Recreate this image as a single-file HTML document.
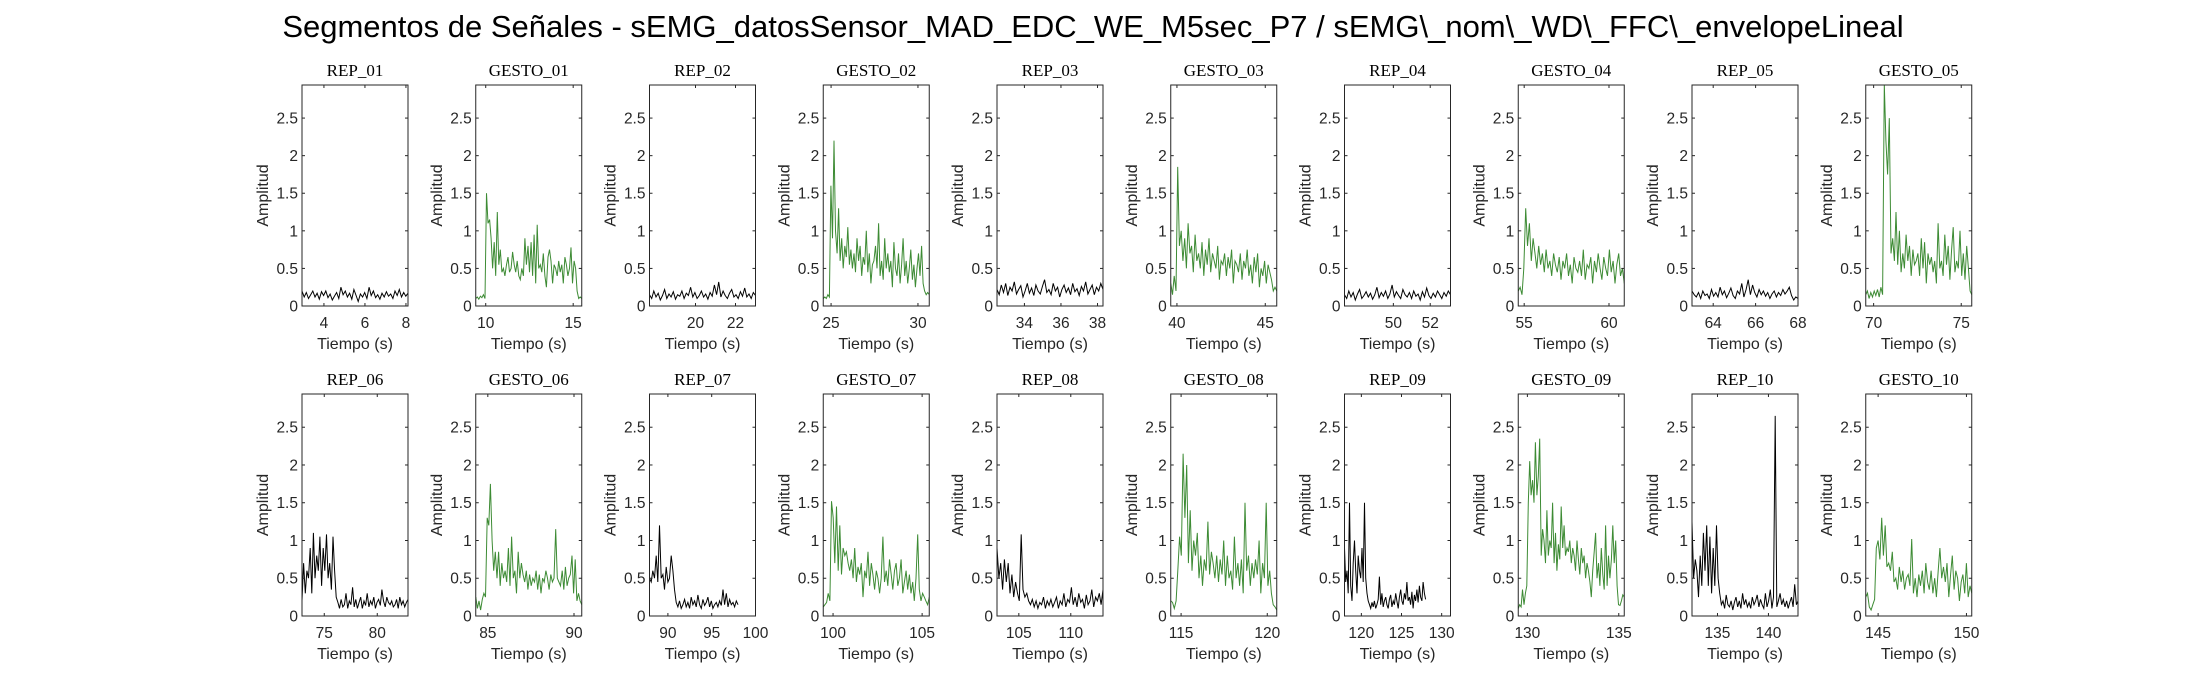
<!DOCTYPE html>
<html><head><meta charset="utf-8">
<style>
html,body{margin:0;padding:0;background:#fff;}
svg{display:block;}
text{font-family:"Liberation Sans",sans-serif;fill:#262626;}
.ttl{font-family:"Liberation Serif",serif;fill:#000;}
</style></head>
<body>
<svg id="fig" width="2187" height="688" viewBox="0 0 2187 688" xmlns="http://www.w3.org/2000/svg">
<text x="1093" y="37" font-size="31" text-anchor="middle" style="fill:#000">Segmentos de Señales - sEMG_datosSensor_MAD_EDC_WE_M5sec_P7 / sEMG\_nom\_WD\_FFC\_envelopeLineal</text>
</svg>
<script>
const titles=["REP_01","GESTO_01","REP_02","GESTO_02","REP_03","GESTO_03","REP_04","GESTO_04","REP_05","GESTO_05","REP_06","GESTO_06","REP_07","GESTO_07","REP_08","GESTO_08","REP_09","GESTO_09","REP_10","GESTO_10"];
const xlims=[[2.93,8.1],[9.43,15.49],[17.7,23.0],[24.55,30.65],[32.5,38.3],[39.65,45.65],[47.35,53.1],[54.65,60.9],[63.0,68.0],[69.55,75.6],[72.9,82.9],[84.3,90.45],[87.9,100],[99.45,105.4],[102.9,113.1],[114.4,120.55],[117.9,131.1],[129.5,135.3],[132.5,142.9],[144.3,150.3]];
const xticks=[[4,6,8],[10,15],[20,22],[25,30],[34,36,38],[40,45],[50,52],[55,60],[64,66,68],[70,75],[75,80],[85,90],[90,95,100],[100,105],[105,110],[115,120],[120,125,130],[130,135],[135,140],[145,150]];
const tspan=[[2.93,8.1],[9.43,15.49],[17.7,23.0],[24.55,30.65],[32.5,38.3],[39.65,45.65],[47.35,53.1],[54.65,60.9],[63.0,68.0],[69.55,75.6],[72.9,82.9],[84.3,90.45],[87.9,98],[99.45,105.4],[102.9,113.1],[114.4,120.55],[117.9,128],[129.5,135.3],[132.5,142.9],[144.3,150.3]];
const yticks=[0,0.5,1,1.5,2,2.5];
const ylim=[0,2.94];
const rep01=[.2,.12,.18,.1,.15,.2,.12,.17,.09,.19,.14,.2,.11,.16,.08,.13,.18,.1,.25,.15,.2,.12,.17,.09,.22,.14,.06,.16,.12,.18,.1,.25,.14,.2,.11,.15,.09,.17,.12,.19,.13,.16,.1,.2,.14,.22,.12,.18,.13,.17];
const gesto01=[.1,.12,.09,.13,.11,.15,.1,1.5,1.1,1.15,.9,.5,.85,.4,1.25,.55,.75,.45,.5,.4,.55,.65,.45,.5,.72,.55,.45,.6,.4,.35,.5,.4,.9,.55,.8,.45,.85,.4,.95,.3,1.08,.5,.55,.45,.7,.4,.25,.65,.75,.6,.3,.55,.5,.4,.6,.45,.55,.3,.65,.55,.4,.5,.78,.3,.6,.5,.2,.1,.12,.1];
const rep02=[.15,.1,.2,.12,.17,.08,.14,.22,.1,.16,.12,.19,.09,.15,.13,.2,.1,.17,.14,.25,.12,.18,.1,.14,.2,.12,.16,.09,.18,.13,.28,.15,.32,.12,.2,.14,.1,.17,.22,.12,.15,.1,.19,.13,.24,.12,.16,.1,.18,.14];
const gesto02=[.1,.12,.1,.15,.12,1.6,.9,2.2,1.0,.7,1.3,.6,.9,.5,.8,.65,1.05,.55,.75,.5,.7,.45,.9,.6,.8,.4,.65,.55,1.0,.45,.7,.3,.55,.6,.8,.5,1.1,.4,.6,.35,.9,.5,.7,.45,.6,.25,.85,.5,.4,.7,.3,.55,.9,.4,.6,.3,.5,.75,.35,.55,.25,.5,.7,.4,.8,.3,.2,.15,.18,.15];
const rep03=[.22,.15,.28,.18,.3,.14,.25,.2,.32,.16,.22,.27,.12,.2,.3,.17,.24,.14,.28,.2,.16,.26,.35,.18,.22,.15,.3,.2,.25,.12,.22,.28,.18,.24,.15,.3,.19,.23,.14,.26,.2,.32,.16,.22,.28,.15,.25,.2,.3,.22];
const gesto03=[.3,.15,.4,.2,1.85,.8,1.0,.6,.9,.5,1.1,.7,.8,.45,.95,.6,.7,.5,.85,.4,.75,.55,.9,.45,.7,.6,.5,.8,.35,.6,.55,.7,.4,.65,.5,.75,.3,.6,.55,.45,.7,.35,.6,.5,.75,.4,.55,.3,.65,.45,.7,.25,.5,.4,.6,.3,.55,.45,.35,.2,.25,.2];
const rep04=[.15,.1,.2,.12,.18,.08,.16,.22,.1,.14,.19,.12,.17,.09,.15,.25,.11,.18,.13,.2,.1,.16,.28,.12,.19,.14,.1,.22,.15,.12,.18,.1,.2,.13,.16,.08,.19,.12,.24,.14,.1,.17,.12,.2,.15,.1,.18,.13,.2,.15];
const gesto04=[.2,.25,.15,.5,1.3,.8,1.1,.6,.9,.7,.5,.8,.55,.7,.45,.75,.5,.6,.4,.7,.55,.45,.65,.35,.6,.5,.7,.4,.55,.3,.65,.5,.45,.6,.4,.75,.35,.55,.5,.65,.3,.6,.45,.7,.5,.35,.65,.5,.4,.75,.45,.6,.3,.55,.7,.4,.5,.3];
const rep05=[.2,.15,.12,.18,.1,.2,.14,.16,.1,.22,.13,.18,.12,.25,.15,.2,.11,.17,.24,.14,.1,.2,.16,.3,.12,.22,.35,.15,.28,.18,.12,.22,.15,.2,.13,.18,.1,.16,.2,.12,.18,.14,.22,.16,.2,.25,.14,.08,.12,.1];
const gesto05=[.15,.2,.1,.18,.12,.2,.14,.22,.12,.25,.15,2.95,2.2,1.75,2.5,.7,.9,.6,1.25,.55,1.0,.45,.7,.5,.95,.6,.8,.4,.75,.55,.6,.7,.4,.9,.5,.85,.3,.7,.55,.65,.45,.6,.3,1.1,.5,.6,.4,.95,.55,.8,.35,.75,1.05,.45,.6,.5,1.0,.4,.7,.35,.8,.5,.2,.15];
const rep06=[.2,.7,.3,.6,.5,.9,.3,1.1,.5,.8,.6,1.05,.4,.9,.6,1.08,.5,.7,.35,1.05,.6,.25,.18,.1,.22,.12,.15,.3,.1,.2,.15,.38,.12,.22,.1,.18,.25,.1,.2,.14,.3,.12,.2,.15,.25,.1,.18,.22,.14,.35,.2,.12,.25,.18,.15,.2,.12,.15,.22,.1,.25,.15,.2,.12,.18,.22];
const gesto06=[.25,.1,.2,.08,.22,.3,.25,1.3,1.2,1.75,1.0,.6,.85,.5,.85,.4,.7,.5,.6,.45,.9,.4,1.05,.5,.6,.3,.85,.5,.7,.55,.45,.6,.35,.55,.4,.5,.45,.6,.35,.55,.3,.5,.45,.6,.5,.35,.55,.45,.5,1.15,.5,.45,.4,.6,.35,.65,.4,.5,.55,.8,.3,.75,.2,.3,.2,.15];
const rep07=[.5,.45,.6,.5,.8,.45,1.2,.5,.55,.35,.65,.45,.5,.8,.6,.35,.18,.12,.2,.1,.15,.22,.12,.18,.1,.25,.15,.2,.12,.28,.15,.1,.22,.14,.18,.25,.12,.2,.1,.15,.18,.12,.2,.14,.35,.15,.3,.12,.22,.15,.18,.12,.2,.15];
const gesto07=[.12,.15,.18,.3,.2,1.52,1.3,.7,1.45,.6,1.2,.55,.9,.8,.85,.7,.6,.75,.5,.9,.45,.65,.55,.7,.25,.6,.5,.85,.4,.7,.55,.35,.6,.5,.3,.5,1.05,.45,.6,.4,.75,.55,.35,.6,.7,.4,.5,.75,.3,.45,.6,.35,.55,.3,.45,.2,.5,1.08,.35,.2,.3,.25,.2,.15,.25];
const rep08=[.9,.5,.7,.35,.75,.45,.7,.3,.55,.25,.45,.3,.2,1.08,.35,.25,.3,.2,.15,.22,.12,.2,.1,.18,.15,.25,.1,.2,.14,.22,.12,.18,.25,.1,.2,.15,.3,.12,.22,.18,.38,.15,.25,.12,.3,.18,.22,.1,.28,.15,.2,.35,.12,.25,.2,.3,.15,.35];
const gesto08=[.2,.18,.1,.2,.6,1.05,.8,2.15,1.3,2.0,.7,1.4,.6,1.0,.8,1.1,.5,.8,.4,.75,.6,1.25,.55,.85,.7,.5,.8,.45,.75,.55,1.0,.4,.8,.5,.6,.35,1.05,.5,.7,.4,.75,.3,1.5,.6,.8,.4,.7,.5,.75,.55,1.0,.3,.7,.5,1.5,.4,.6,.3,.15,.12,.08];
const rep09=[.9,.45,.6,.3,1.5,.4,.2,.7,1.0,.6,.3,.8,.6,.5,.9,.45,1.5,.5,.3,.2,.15,.1,.18,.12,.2,.1,.15,.22,.52,.15,.3,.12,.2,.25,.15,.1,.22,.28,.12,.2,.15,.3,.2,.1,.25,.35,.2,.15,.3,.22,.45,.2,.25,.15,.32,.1,.28,.2,.35,.18,.4,.25,.2,.45,.3,.22];
const gesto09=[.1,.15,.12,.35,.15,.3,.4,1.5,2.05,1.6,1.8,1.5,2.3,1.6,1.85,2.35,.8,1.15,1.0,.7,1.4,.8,1.0,.9,1.5,.7,1.1,.6,.95,.75,1.45,.9,1.2,.8,.9,.85,1.0,.7,.9,.8,.6,1.0,.75,.55,.9,.7,.8,.5,.7,.6,.45,.25,.6,.85,1.1,.5,.7,.4,.9,.55,.35,1.2,.4,.8,.5,.75,1.2,.7,1.0,.4,.15,.14,.2,.28,.25];
const rep10=[1.25,.5,.75,.6,.25,.8,.4,1.1,.6,1.2,.4,1.05,.3,.9,.4,1.2,.5,.3,.15,.2,.1,.28,.15,.12,.2,.08,.18,.25,.12,.2,.1,.3,.15,.22,.12,.18,.1,.25,.15,.2,.28,.12,.22,.15,.1,.3,.12,.2,.35,.1,.25,2.65,.12,.2,.3,.15,.22,.12,.2,.1,.18,.25,.12,.42,.15,.2];
const gesto10=[.25,.3,.12,.08,.15,.22,.9,1.0,.75,1.3,.8,1.2,.65,.7,.6,.85,.45,.5,.35,.65,.45,.6,.35,.5,.55,.4,1.02,.3,.5,.25,.55,.4,.6,.3,.7,.45,.35,.6,.3,.5,.25,.6,.9,.5,.65,.45,.7,.25,.55,.8,.35,.6,.5,.2,.45,.55,.3,.7,.25,.4,.3];
const series=[rep01,gesto01,rep02,gesto02,rep03,gesto03,rep04,gesto04,rep05,gesto05,rep06,gesto06,rep07,gesto07,rep08,gesto08,rep09,gesto09,rep10,gesto10];

const NS="http://www.w3.org/2000/svg";
const fig=document.getElementById('fig');
function mk(tag,attrs,parent){const e=document.createElementNS(NS,tag);for(const k in attrs)e.setAttribute(k,attrs[k]);parent.appendChild(e);return e;}
const W=106, step=173.75, x0=302;
const rows=[{top:85,bot:306},{top:394,bot:616}];
for(let i=0;i<20;i++){
  const r=Math.floor(i/10), c=i%10;
  const L=x0+c*step, R=L+W, T=rows[r].top, B=rows[r].bot;
  const xl=xlims[i];
  const sx=v=>L+(v-xl[0])/(xl[1]-xl[0])*W;
  const sy=v=>B-(v-ylim[0])/(ylim[1]-ylim[0])*(B-T);
  const g=mk('g',{},fig);
  
  
  const clipId='clip'+i;
  const cp=mk('clipPath',{id:clipId},g);mk('rect',{x:L,y:T,width:W,height:B-T},cp);
  const d=series[i], ts=tspan[i];
  let pts=d.map((v,k)=>sx(ts[0]+(ts[1]-ts[0])*k/(d.length-1)).toFixed(1)+','+sy(v).toFixed(1)).join(' ');
  const pl=mk('polyline',{points:pts,fill:'none',stroke:(i%2?'#3d8b34':'#000'),'stroke-width':1,'clip-path':'url(#'+clipId+')'},g);
  
  
  const bx=mk('rect',{x:L,y:T,width:W,height:B-T,fill:'none',stroke:'#262626','stroke-width':1},g);
  
  
  yticks.forEach(v=>{const y=sy(v);
    mk('line',{x1:L,x2:L+3,y1:y,y2:y,stroke:'#262626'},g);
    mk('line',{x1:R,x2:R-3,y1:y,y2:y,stroke:'#262626'},g);
    const t=mk('text',{x:L-4,y:y+5.5,'font-size':15.5,'text-anchor':'end'},g);t.textContent=String(v);
    
    
  });
  xticks[i].forEach(v=>{const x=sx(v);
    mk('line',{x1:x,x2:x,y1:B,y2:B-3,stroke:'#262626'},g);
    mk('line',{x1:x,x2:x,y1:T,y2:T+3,stroke:'#262626'},g);
    const t=mk('text',{x:x,y:B+22,'font-size':15.5,'text-anchor':'middle'},g);t.textContent=String(v);
    
    
  });
  const yl=mk('text',{x:0,y:0,'font-size':16,'text-anchor':'middle',transform:'translate('+(L-34)+','+((T+B)/2)+') rotate(-90)'},g);yl.textContent='Amplitud';
  
  
  const xt=mk('text',{x:(L+R)/2,y:B+43,'font-size':16,'text-anchor':'middle'},g);xt.textContent='Tiempo (s)';
  
  
  const tt=mk('text',{x:(L+R)/2,y:T-9,'font-size':17,'text-anchor':'middle',class:'ttl'},g);tt.textContent=titles[i];
  
  
}
</script>
</body></html>
